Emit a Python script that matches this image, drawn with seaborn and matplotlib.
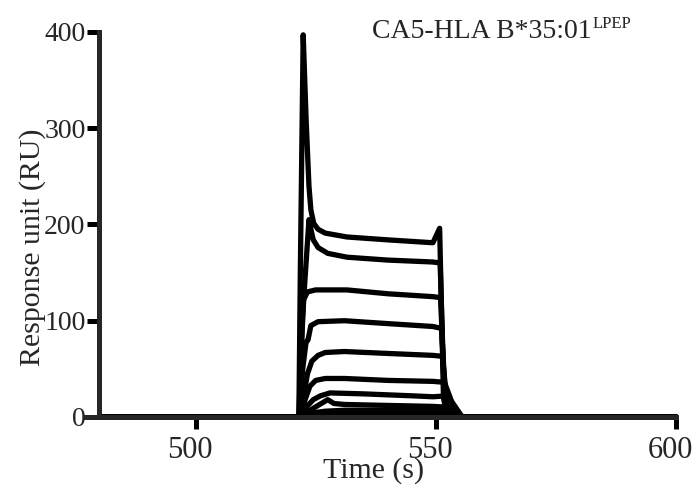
import matplotlib
matplotlib.use("Agg")
from matplotlib import pyplot as plt
from matplotlib.transforms import ScaledTranslation
import seaborn as sns
import pandas as pd

# sensorgram traces: time (s) and response (RU)
c1_t = [480, 521.5, 521.8, 522.4, 523.0, 523.6, 524.0, 524.6, 525.5, 527.0, 531.5, 540, 549.4, 550.8, 551.6, 552.5, 600]
c1_ru = [0, 0, 150, 397, 310, 240, 215, 201, 195, 191, 187, 184, 181, 196, 20, 0, 0]

c2_t = [480, 521.6, 522.2, 523.6, 524.0, 524.5, 525.5, 527.5, 531.5, 540, 549.4, 550.9, 551.8, 552.7, 600]
c2_ru = [0, 0, 100, 205, 195, 184, 176, 170, 166, 163, 161, 160, 15, 0, 0]

c3_t = [480, 521.5, 521.9, 522.5, 523.3, 525, 531.5, 540, 549.4, 551.0, 551.9, 553.0, 600]
c3_ru = [0, 0, 60, 122, 130, 132, 132, 128, 125, 124, 10, 0, 0]

c4_t = [480, 521.6, 522.3, 523.0, 523.4, 524.0, 525.5, 531, 540, 549.4, 551.2, 552.1, 553.2, 600]
c4_ru = [0, 0, 50, 78, 80, 95, 99, 100, 97, 94, 92, 10, 0, 0]

c5_t = [480, 521.7, 522.6, 523.3, 524.2, 525.5, 527, 531, 540, 549.4, 551.4, 552.4, 553.6, 600]
c5_ru = [0, 0, 25, 45, 58, 64, 67, 68, 66, 64, 63, 10, 0, 0]

c6_t = [480, 521.7, 522.8, 523.8, 525, 527, 531, 540, 549.4, 551.8, 553.0, 554.2, 600]
c6_ru = [0, 0, 18, 32, 38, 40, 40, 38, 37, 36, 20, 0, 0]

c7_t = [480, 521.8, 523.0, 524.5, 526, 528, 535, 545, 549.4, 552.5, 555.5, 600]
c7_ru = [0, 0, 10, 18, 22, 25, 24, 22, 21, 22, 0, 0]

c8_t = [480, 521.8, 523.5, 525.5, 527.5, 528.8, 531, 540, 549.4, 553.0, 555.0, 600]
c8_ru = [0, 0, 6, 12, 18, 14, 13, 12, 11, 10, 0, 0]

c9_t = [480, 521.9, 524, 527, 531, 540, 549.4, 553.2, 555.3, 600]
c9_ru = [0, 0, 4, 6, 7, 7, 7, 6, 0, 0]

c10_t = [480, 522.0, 525, 530, 540, 549.4, 553.5, 555.5, 600]
c10_ru = [0, 0, 2, 4, 4, 4, 3, 0, 0]

curves = {
    "c1": (c1_t, c1_ru), "c2": (c2_t, c2_ru), "c3": (c3_t, c3_ru),
    "c4": (c4_t, c4_ru), "c5": (c5_t, c5_ru), "c6": (c6_t, c6_ru),
    "c7": (c7_t, c7_ru), "c8": (c8_t, c8_ru), "c9": (c9_t, c9_ru),
    "c10": (c10_t, c10_ru),
}

x_ticks = [500, 550, 600]
y_ticks = [0, 100, 200, 300, 400]


def main():
    sns.set_theme(style="ticks")
    plt.rcParams["font.family"] = ["Liberation Serif", "DejaVu Serif"]

    tabela = pd.concat(
        [pd.DataFrame({"t": t, "ru": ru, "curva": nome}) for nome, (t, ru) in curves.items()],
        ignore_index=True,
    )

    fig = plt.figure(figsize=(6.96, 4.93), dpi=100)
    ax = fig.add_axes([0.1236, 0.1542, 0.8477, 0.781])

    sns.lineplot(data=tabela, x="t", y="ru", units="curva", estimator=None,
                 color="black", lw=3.8, sort=False, ax=ax, clip_on=False)

    ax.set_xlim(477.2, 600)
    ax.set_ylim(0, 400)
    ax.set_xticks(x_ticks)
    ax.set_yticks(y_ticks)

    for lado in ["top", "right"]:
        ax.spines[lado].set_visible(False)
    ax.spines["left"].set_position(("data", 480))
    ax.spines["left"].set_bounds(0, 400)
    ax.spines["left"].set_linewidth(3.6)
    ax.spines["bottom"].set_linewidth(3.6)

    ax.tick_params(axis="both", direction="out", length=8.5, width=3.6, color="black")
    ax.tick_params(axis="x", labelsize=22, pad=5)
    ax.tick_params(axis="y", labelsize=20, pad=1.5)

    # GraphPad-style export: x tick labels sit a little left of their ticks
    desloc = ScaledTranslation(-6 / 100, 0, fig.dpi_scale_trans)
    for rotulo in ax.get_xticklabels():
        rotulo.set_transform(rotulo.get_transform() + desloc)

    ax.set_xlabel("Time (s)", fontsize=21.5, va="baseline")
    ax.xaxis.set_label_coords(0.488, -0.158)
    ax.set_ylabel("Response unit (RU)", fontsize=21.5)
    ax.yaxis.set_label_coords(-0.068, 0.44)

    fig.text(372 / 696, 1 - 38 / 493, "CA5-HLA B*35:01", fontsize=20, va="baseline", ha="left")
    fig.text(593 / 696, 1 - 28 / 493, "LPEP", fontsize=12, va="baseline", ha="left")

    fig.savefig("out.png", dpi=100)


if __name__ == "__main__":
    main()
